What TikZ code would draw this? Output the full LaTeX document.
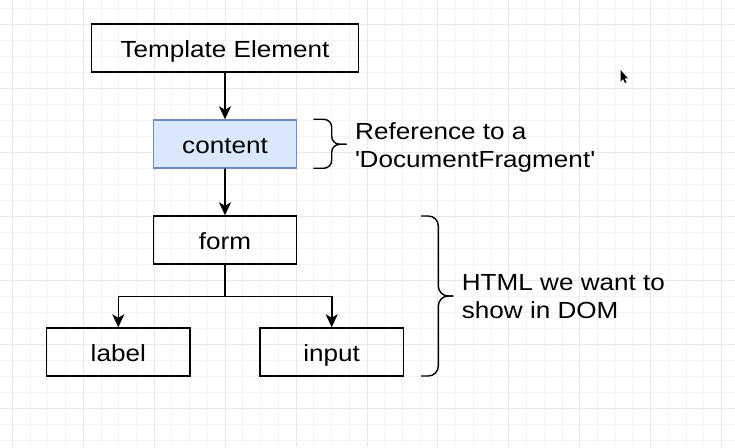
\documentclass[tikz,border=0pt]{standalone}
\usepackage{fontspec}
\setmainfont{Liberation Sans}[FakeStretch=1.12]
\usetikzlibrary{arrows.meta}
\definecolor{contentfill}{RGB}{218,232,252}
\definecolor{contentline}{RGB}{108,142,191}
\begin{document}
\begin{tikzpicture}[x=1pt,y=1pt,
			font=\fontsize{23.3}{27.8}\selectfont,
			level 1/.style={level distance=96pt},
			level 2/.style={level distance=96pt},
			level 3/.style={level distance=112pt, sibling distance=213.4pt,
				edge from parent path={(\tikzparentnode.south) -- ++(0,-32pt) -| (\tikzchildnode.north)}},
			box/.style={draw, line width=1.4pt, minimum width=143.4pt, minimum height=48pt,
				inner sep=0pt, text height=20pt, text depth=1pt},
			edge from parent/.style={draw, line width=1.6pt, -{Stealth[length=13pt,width=12pt,inset=3.5pt]}},
			gridminor/.style={gray!9, line width=0.8pt},
			gridmajor/.style={gray!18, line width=0.8pt},
			brace/.style={line width=1.4pt, rounded corners=8pt}]
			
			\useasboundingbox[fill=white] (0,0) rectangle (735,447);
			\clip (0,0) rectangle (735,447);
			
			% grid
			\foreach \i in {0,...,41} \draw[gridminor] (12.3+17.73*\i,0) -- ++(0,447);
			\foreach \j in {0,...,27} \draw[gridminor] (0,438.7-16*\j) -- ++(735,0);
			\foreach \i in {0,...,10} \draw[gridmajor] (12.3+70.92*\i,0) -- ++(0,447);
			\foreach \j in {0,...,6} \draw[gridmajor] (0,422.7-64*\j) -- ++(735,0);
			
			\node[box, minimum width=267.3pt] (tmpl) at (225,399) {Template Element}
			child {node[box, fill=contentfill, draw=contentline] (content) {content}
				child {node[box] (form) {form}
					child {node[box] (label) {label}}
					child {node[box] (input) {input}}
				}
			};
			
			% braces
			\draw[brace] (313.3,327.7) -- (331.7,327.7) -- (331.7,302.7) -- (346.7,302.7);
			\draw[brace] (313.3,278.7) -- (331.7,278.7) -- (331.7,302.7) -- (346.7,302.7);
			\draw[brace, rounded corners=10pt] (421,231) -- (438.3,231) -- (438.3,151) -- (453.3,151);
			\draw[brace, rounded corners=10pt] (421,71) -- (438.3,71) -- (438.3,151) -- (453.3,151);
			
			\node[anchor=west, inner sep=0pt, align=left] (fragment) at (355,299.2)
				{Reference to a\\\textquotesingle DocumentFragment\textquotesingle};
			\node[anchor=west, inner sep=0pt, align=left] (dom) at (461.7,150.3)
				{HTML we want to\\show in DOM};
			
			% mouse pointer
			\fill (620.5,377) -- (620.5,365.5) -- (623,368) -- (625,364) -- (626.6,364.7) -- (624.6,368.6) -- (628,368.6) -- cycle;
			\end{tikzpicture}
\end{document}
